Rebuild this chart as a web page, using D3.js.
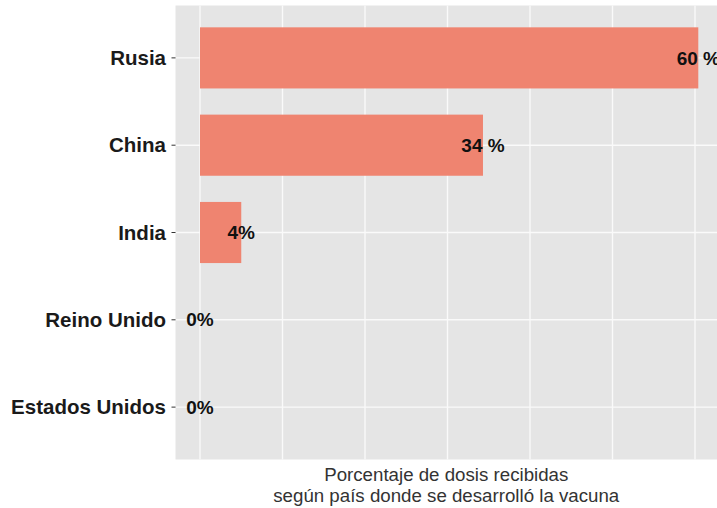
<!DOCTYPE html>
<html>
<head>
<meta charset="utf-8">
<script src="https://cdn.jsdelivr.net/npm/d3@7"></script>
<style>
  html, body { margin: 0; padding: 0; background: #fff; }
  svg { display: block; }
</style>
</head>
<body>
<svg id="chart" width="717" height="508"></svg>
<script>
const categories = ["Rusia", "China", "India", "Reino Unido", "Estados Unidos"];
const values = [60.4, 34.3, 5.0, 0, 0];
const valueLabels = ["60 %", "34 %", "4%", "0%", "0%"];
const gridTicks = [0, 10, 20, 30, 40, 50, 60, 70];
const axisTitle = ["Porcentaje de dosis recibidas", "según país donde se desarrolló la vacuna"];

const W = 717, H = 508;
const svg = d3.select("#chart");
const font = "'Liberation Sans', Arial, Helvetica, sans-serif";

const panel = { left: 175.5, top: 5.5, right: 717, bottom: 459.5 };

const x = d3.scaleLinear().domain([0, 60]).range([200, 695]);
const y = d3.scalePoint()
  .domain(categories)
  .range([panel.top, panel.bottom])
  .padding(0.6);
const yc = d => y(d);
const step = y.step();
const barH = step * 0.7;

svg.append("rect")
  .attr("x", panel.left).attr("y", panel.top)
  .attr("width", panel.right - panel.left).attr("height", panel.bottom - panel.top)
  .attr("fill", "#e5e5e5");

// vertical gridlines
svg.append("g").selectAll("line").data(gridTicks).join("line")
  .attr("x1", d => x(d)).attr("x2", d => x(d))
  .attr("y1", panel.top).attr("y2", panel.bottom)
  .attr("stroke", "#fafafa").attr("stroke-width", 1.4);

// horizontal gridlines
svg.append("g").selectAll("line").data(categories).join("line")
  .attr("x1", panel.left).attr("x2", panel.right)
  .attr("y1", d => yc(d)).attr("y2", d => yc(d))
  .attr("stroke", "#fafafa").attr("stroke-width", 1.4);

// bars
svg.append("g").selectAll("rect").data(categories).join("rect")
  .attr("x", x(0))
  .attr("y", d => yc(d) - barH / 2)
  .attr("width", (d, i) => x(values[i]) - x(0))
  .attr("height", barH)
  .attr("fill", "#ef8470");

// value labels
svg.append("g").selectAll("text").data(categories).join("text")
  .attr("x", (d, i) => x(values[i]))
  .attr("y", d => yc(d))
  .attr("dy", "0.35em")
  .attr("text-anchor", "middle")
  .attr("font-family", font)
  .attr("font-weight", "bold")
  .attr("font-size", 19)
  .attr("fill", "#111")
  .text((d, i) => valueLabels[i]);

// y axis ticks and labels
const yAxis = svg.append("g");
yAxis.selectAll("line").data(categories).join("line")
  .attr("x1", panel.left - 4).attr("x2", panel.left)
  .attr("y1", d => yc(d)).attr("y2", d => yc(d))
  .attr("stroke", "#333").attr("stroke-width", 1);
yAxis.selectAll("text").data(categories).join("text")
  .attr("x", 166)
  .attr("y", d => yc(d))
  .attr("dy", "0.35em")
  .attr("text-anchor", "end")
  .attr("font-family", font)
  .attr("font-weight", "bold")
  .attr("font-size", 20.5)
  .attr("fill", "#1a1a1a")
  .text(d => d);

// x axis title
svg.append("g").selectAll("text").data(axisTitle).join("text")
  .attr("x", (panel.left + panel.right) / 2)
  .attr("y", (d, i) => 481 + i * 20.5)
  .attr("text-anchor", "middle")
  .attr("font-family", font)
  .attr("font-size", 18.7)
  .attr("fill", "#333")
  .text(d => d);
</script>
</body>
</html>
